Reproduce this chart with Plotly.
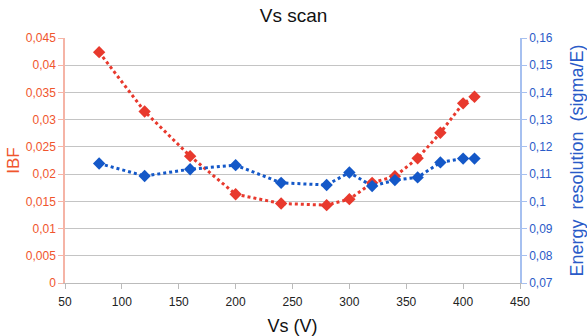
import plotly.graph_objects as go

vs = [80, 120, 160, 200, 240, 280, 300, 320, 340, 360, 380, 400, 410]
ibf = [0.0424, 0.0315, 0.0233, 0.0163, 0.0146, 0.0143, 0.0154, 0.0184, 0.0196, 0.0229, 0.0276, 0.0330, 0.0342]
eres = [0.1139, 0.1093, 0.1118, 0.1133, 0.1068, 0.1060, 0.1106, 0.1056, 0.1078, 0.1088, 0.1143, 0.1157, 0.1157]

red = "#e8392d"
blue = "#1458c8"
red_txt = "#f0552d"
blue_txt = "#2a5bc8"
font = "Liberation Sans, Arial, sans-serif"

fig = go.Figure()
fig.add_trace(go.Scatter(x=vs, y=ibf, mode="lines+markers", name="IBF",
                         line=dict(color=red, width=3, dash="dot"),
                         marker=dict(symbol="diamond", size=9.5, color=red)))
fig.add_trace(go.Scatter(x=vs, y=eres, mode="lines+markers", name="Energy resolution",
                         yaxis="y2",
                         line=dict(color=blue, width=3, dash="dot"),
                         marker=dict(symbol="diamond", size=9.5, color=blue)))

fig.update_layout(
    width=587, height=336,
    margin=dict(l=65, r=67, t=38, b=53),
    paper_bgcolor="white", plot_bgcolor="white",
    separators=", ",
    showlegend=False,
    font=dict(family=font, size=12, color="#222"),
    title=dict(text="Vs scan", x=0.5, xanchor="center", y=0.955, yanchor="middle",
               font=dict(size=19, color="#111", family=font)),
    xaxis=dict(range=[50, 450], dtick=50, tick0=50, showgrid=False, zeroline=False,
               showline=True, linecolor="#bbbbbb", linewidth=1, automargin=False,
               ticks="outside", ticklen=5, tickcolor="#bbbbbb", ticklabelstandoff=3,
               tickfont=dict(size=12, color="#222"),
               title=dict(text="Vs (V)", font=dict(size=18, color="#111"), standoff=17)),
    yaxis=dict(range=[0, 0.045], dtick=0.005, tick0=0, showgrid=True, gridcolor="#c4c4c4",
               gridwidth=1, zeroline=False, showline=True, linecolor="#f5b4a6", linewidth=1.5,
               ticks="outside", ticklen=5, tickcolor="#f5b4a6", automargin=False,
               tickfont=dict(size=12, color=red_txt),
               title=dict(text="IBF", font=dict(size=17, color=red_txt), standoff=2)),
    yaxis2=dict(range=[0.07, 0.16], dtick=0.01, tick0=0.07, overlaying="y", side="right",
                showgrid=False, zeroline=False, showline=True, linecolor="#a6c0f0", linewidth=1.5,
                ticks="outside", ticklen=5, tickcolor="#a6c0f0", automargin=False,
                tickfont=dict(size=12, color=blue_txt),
                title=dict(text="Energy  resolution  (sigma/E)", font=dict(size=18, color=blue_txt), standoff=20)),
)

fig.write_html("out.html")
